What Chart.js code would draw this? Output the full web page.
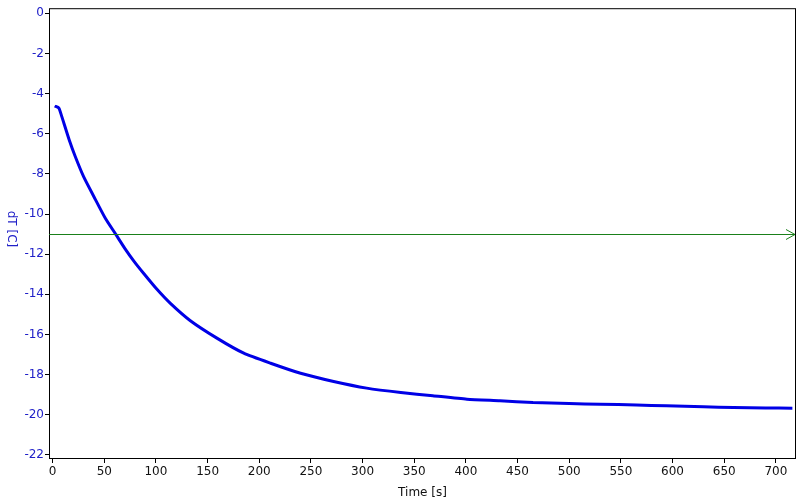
<!DOCTYPE html>
<html>
<head>
<meta charset="utf-8">
<script src="https://cdn.jsdelivr.net/npm/chart.js@4.4.1/dist/chart.umd.min.js"></script>
<style>
  html, body { margin: 0; padding: 0; background: #fff; }
  #wrap { width: 800px; height: 504px; }
</style>
</head>
<body>
<div id="wrap"><canvas id="myChart" width="800" height="504"></canvas></div>
<script>
// values
const timeS = [2, 6, 8, 11, 16, 22, 30, 40, 51, 61, 70, 79, 88, 101, 114, 133, 159, 185, 211, 240, 272, 304, 337, 368, 401, 433, 465, 500, 530, 565, 594, 630, 659, 690, 716];
const dT = [-4.62, -4.72, -5.0, -5.49, -6.3, -7.15, -8.14, -9.14, -10.21, -11.0, -11.72, -12.37, -12.95, -13.75, -14.45, -15.3, -16.18, -16.93, -17.43, -17.93, -18.34, -18.67, -18.89, -19.05, -19.22, -19.30, -19.39, -19.44, -19.47, -19.51, -19.55, -19.6, -19.64, -19.66, -19.67];
const refLevel = -11;
const yTicks = [0, -2, -4, -6, -8, -10, -12, -14, -16, -18, -20, -22];

const tickFont = { family: 'DejaVu Sans', size: 12 };

const frame = {
  id: 'frame',
  afterDraw(chart) {
    const { ctx, chartArea: a, scales } = chart;
    ctx.save();
    ctx.strokeStyle = '#000';
    ctx.lineWidth = 1;
    ctx.strokeRect(a.left + 0.5, a.top + 0.5, a.right - a.left - 1, a.bottom - a.top - 1);

    // green reference arrow
    const y = Math.round(scales.y.getPixelForValue(refLevel)) + 0.5;
    ctx.strokeStyle = '#1a801a';
    ctx.beginPath();
    ctx.moveTo(a.left, y);
    ctx.lineTo(a.right - 1, y);
    ctx.moveTo(a.right - 10, y - 5);
    ctx.lineTo(a.right - 1, y);
    ctx.lineTo(a.right - 10, y + 5);
    ctx.stroke();

    // y title, reading top to bottom
    ctx.fillStyle = '#2020c8';
    ctx.font = '12px "DejaVu Sans"';
    ctx.textAlign = 'center';
    ctx.textBaseline = 'middle';
    ctx.translate(11, 229);
    ctx.rotate(Math.PI / 2);
    ctx.fillText('dT [C]', 0, 0);
    ctx.restore();
  }
};

new Chart(document.getElementById('myChart'), {
  type: 'line',
  data: {
    datasets: [{
      data: timeS.map((t, i) => ({ x: t, y: dT[i] })),
      borderColor: '#0000e6',
      borderWidth: 3,
      pointRadius: 0,
      tension: 0.2,
      fill: false
    }]
  },
  options: {
    responsive: false,
    animation: false,
    layout: { padding: { top: 8, right: 4, left: 0, bottom: 0 } },
    plugins: { legend: { display: false }, tooltip: { enabled: false } },
    scales: {
      x: {
        type: 'linear',
        min: -3.5,
        max: 719.5,
        grid: { drawOnChartArea: false, drawTicks: true, tickLength: 4, color: '#000' },
        border: { display: false },
        ticks: { stepSize: 50, includeBounds: false, color: '#111', font: tickFont, padding: 2, maxRotation: 0 },
        title: { display: true, text: 'Time [s]', color: '#111', font: tickFont, padding: { top: 0, bottom: 4 } },
        afterFit: s => { s.height = 45; }
      },
      y: {
        min: -22.2,
        max: 0.25,
        afterBuildTicks: s => { s.ticks = yTicks.map(v => ({ value: v })); },
        grid: { drawOnChartArea: false, drawTicks: true, tickLength: 4, color: '#000' },
        border: { display: false },
        ticks: { color: '#2020c8', font: tickFont, padding: 1 },
        afterFit: s => { s.width = 49; }
      }
    }
  },
  plugins: [frame]
});
</script>
</body>
</html>
